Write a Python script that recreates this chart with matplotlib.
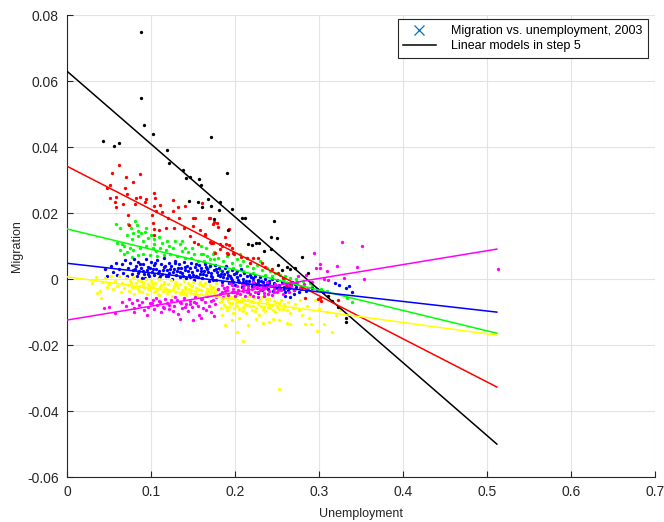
import matplotlib
matplotlib.use("Agg")
import matplotlib.pyplot as plt
from matplotlib.lines import Line2D

plt.rcParams['font.family'] = ['Liberation Sans', 'DejaVu Sans']

# cluster points: (unemployment, migration)
black_pts = [(0.088, 0.0748), (0.088, 0.0548), (0.092, 0.0467), (0.102, 0.0439), (0.171, 0.0430),
             (0.043, 0.0418), (0.056, 0.0403), (0.062, 0.0412), (0.119, 0.0391), (0.122, 0.0352),
             (0.138, 0.0330), (0.142, 0.0306), (0.146, 0.0309), (0.157, 0.0303), (0.160, 0.0285),
             (0.191, 0.0321), (0.145, 0.0236), (0.156, 0.0233), (0.168, 0.0242), (0.161, 0.0218),
             (0.172, 0.0222), (0.182, 0.0233), (0.181, 0.0209), (0.196, 0.0212), (0.208, 0.0185),
             (0.212, 0.0185), (0.192, 0.0148), (0.175, 0.0182), (0.246, 0.0176), (0.243, 0.0127),
             (0.250, 0.0124), (0.215, 0.0106), (0.220, 0.0104), (0.225, 0.0109), (0.229, 0.0109),
             (0.234, 0.0085), (0.243, 0.0091), (0.280, 0.0067), (0.251, 0.0042), (0.256, 0.0027),
             (0.262, 0.0036), (0.266, 0.0030), (0.271, 0.0033), (0.287, 0.0018), (0.311, -0.0052),
             (0.315, -0.0067), (0.323, -0.0085), (0.332, -0.0118), (0.332, -0.0130)]

red_pts = [(0.062, 0.0345), (0.054, 0.0321), (0.070, 0.0309), (0.087, 0.0318), (0.079, 0.0294),
           (0.051, 0.0285), (0.048, 0.0276), (0.069, 0.0276), (0.071, 0.0258), (0.051, 0.0245),
           (0.058, 0.0248), (0.082, 0.0245), (0.087, 0.0248), (0.094, 0.0242), (0.104, 0.0261),
           (0.105, 0.0245), (0.057, 0.0233), (0.067, 0.0227), (0.081, 0.0227), (0.093, 0.0233),
           (0.058, 0.0218), (0.073, 0.0194), (0.104, 0.0221), (0.111, 0.0224), (0.106, 0.0206),
           (0.101, 0.0194), (0.113, 0.0203), (0.126, 0.0239), (0.132, 0.0218), (0.140, 0.0221),
           (0.126, 0.0206), (0.133, 0.0185), (0.150, 0.0185), (0.152, 0.0185), (0.102, 0.0170),
           (0.120, 0.0185), (0.118, 0.0155), (0.110, 0.0148), (0.127, 0.0155), (0.139, 0.0155),
           (0.150, 0.0161), (0.158, 0.0148), (0.169, 0.0185), (0.175, 0.0173), (0.179, 0.0170),
           (0.180, 0.0158), (0.164, 0.0136), (0.193, 0.0152), (0.146, 0.0130), (0.074, 0.0164),
           (0.104, 0.0152), (0.104, 0.0133), (0.151, 0.0112), (0.156, 0.0106), (0.164, 0.0133),
           (0.171, 0.0109), (0.170, 0.0185), (0.174, 0.0167), (0.188, 0.0127), (0.170, 0.0112),
           (0.174, 0.0109), (0.182, 0.0106), (0.185, 0.0100), (0.189, 0.0106), (0.193, 0.0103),
           (0.196, 0.0094), (0.182, 0.0091), (0.190, 0.0079), (0.176, 0.0079), (0.198, 0.0079),
           (0.192, 0.0076), (0.199, 0.0076), (0.207, 0.0067), (0.214, 0.0064), (0.218, 0.0048),
           (0.221, 0.0064), (0.227, 0.0064), (0.232, 0.0048), (0.236, 0.0036), (0.244, 0.0030),
           (0.251, 0.0018), (0.257, 0.0003), (0.265, -0.0012), (0.261, -0.0021), (0.280, -0.0024),
           (0.283, -0.0058), (0.299, -0.0061), (0.301, -0.0058), (0.323, -0.0064), (0.302, -0.0067),
           (0.161, 0.0230)]

green_pts = [(0.058, 0.0168), (0.063, 0.0156), (0.073, 0.0166), (0.076, 0.0156), (0.083, 0.0164),
             (0.085, 0.0147), (0.079, 0.0140), (0.071, 0.0135), (0.081, 0.0176), (0.060, 0.0110),
             (0.065, 0.0107), (0.068, 0.0100), (0.077, 0.0123), (0.084, 0.0130), (0.088, 0.0140),
             (0.093, 0.0143), (0.096, 0.0125), (0.100, 0.0135), (0.104, 0.0123), (0.109, 0.0127),
             (0.075, 0.0093), (0.071, 0.0083), (0.079, 0.0087), (0.087, 0.0095), (0.094, 0.0100),
             (0.102, 0.0093), (0.111, 0.0095), (0.118, 0.0088), (0.126, 0.0095), (0.134, 0.0105),
             (0.137, 0.0085), (0.144, 0.0083), (0.151, 0.0075), (0.159, 0.0077), (0.167, 0.0070),
             (0.175, 0.0083), (0.175, 0.0060), (0.170, 0.0044), (0.163, 0.0055), (0.156, 0.0055),
             (0.148, 0.0065), (0.140, 0.0063), (0.131, 0.0070), (0.123, 0.0075), (0.115, 0.0073),
             (0.107, 0.0070), (0.099, 0.0073), (0.091, 0.0075), (0.084, 0.0073), (0.077, 0.0067),
             (0.068, 0.0075), (0.063, 0.0087), (0.119, 0.0115), (0.128, 0.0117), (0.094, 0.0154),
             (0.090, 0.0117), (0.104, 0.0105), (0.113, 0.0110), (0.137, 0.0115), (0.141, 0.0095),
             (0.149, 0.0095), (0.159, 0.0100), (0.166, 0.0095), (0.106, 0.0085), (0.121, 0.0100),
             (0.162, 0.0075), (0.164, 0.0049), (0.174, 0.0077), (0.170, 0.0060), (0.180, 0.0065),
             (0.186, 0.0055), (0.176, 0.0044), (0.190, 0.0070), (0.196, 0.0049), (0.202, 0.0060),
             (0.206, 0.0044), (0.210, 0.0055), (0.214, 0.0039), (0.218, 0.0049), (0.222, 0.0034),
             (0.226, 0.0044), (0.232, 0.0029), (0.238, 0.0034), (0.242, 0.0024), (0.248, 0.0019),
             (0.254, 0.0014), (0.260, 0.0009), (0.266, 0.0004), (0.273, -0.0001), (0.281, -0.0006),
             (0.289, -0.0011), (0.198, 0.0034), (0.182, 0.0029), (0.168, 0.0034), (0.192, 0.0024),
             (0.210, 0.0024), (0.222, 0.0019), (0.236, 0.0014), (0.244, 0.0009), (0.258, -0.0001),
             (0.269, -0.0011), (0.206, 0.0075), (0.214, 0.0065), (0.230, 0.0055), (0.292, -0.0020),
             (0.333, -0.0058), (0.339, -0.0070), (0.302, -0.0030), (0.310, -0.0035)]

blue_pts = [(0.052, 0.0040), (0.055, 0.0022), (0.058, 0.0050), (0.060, 0.0012), (0.062, 0.0031),
            (0.065, 0.0045), (0.067, 0.0020), (0.069, 0.0058), (0.071, 0.0008), (0.073, 0.0035),
            (0.075, 0.0049), (0.077, 0.0015), (0.079, 0.0027), (0.080, 0.0062), (0.082, 0.0041),
            (0.083, 0.0010), (0.085, 0.0053), (0.086, 0.0024), (0.088, 0.0034), (0.089, 0.0002),
            (0.091, 0.0047), (0.092, 0.0017), (0.094, 0.0060), (0.095, 0.0029), (0.097, 0.0038),
            (0.098, 0.0008), (0.100, 0.0052), (0.101, 0.0021), (0.103, 0.0043), (0.104, 0.0013),
            (0.106, 0.0031), (0.107, 0.0057), (0.109, 0.0003), (0.110, 0.0025), (0.112, 0.0046),
            (0.113, 0.0016), (0.115, 0.0036), (0.116, 0.0064), (0.118, 0.0009), (0.119, 0.0028),
            (0.121, 0.0050), (0.122, 0.0019), (0.124, 0.0040), (0.125, -0.0001), (0.127, 0.0032),
            (0.128, 0.0055), (0.130, 0.0012), (0.131, 0.0024), (0.133, 0.0045), (0.134, 0.0006),
            (0.136, 0.0035), (0.137, 0.0018), (0.139, 0.0051), (0.140, 0.0027), (0.142, 0.0002),
            (0.143, 0.0041), (0.145, 0.0014), (0.146, 0.0033), (0.148, 0.0048), (0.149, 0.0022),
            (0.151, -0.0003), (0.152, 0.0037), (0.154, 0.0010), (0.155, 0.0029), (0.157, 0.0044),
            (0.158, 0.0017), (0.160, 0.0034), (0.161, 0.0003), (0.163, 0.0024), (0.164, 0.0046),
            (0.166, 0.0011), (0.167, 0.0030), (0.169, -0.0006), (0.170, 0.0039), (0.172, 0.0018),
            (0.173, 0.0006), (0.175, 0.0027), (0.176, 0.0042), (0.178, -0.0002), (0.179, 0.0021),
            (0.181, 0.0035), (0.182, 0.0009), (0.184, 0.0026), (0.185, -0.0008), (0.187, 0.0015),
            (0.188, 0.0033), (0.190, 0.0002), (0.191, 0.0022), (0.193, -0.0012), (0.194, 0.0010),
            (0.196, 0.0028), (0.197, -0.0004), (0.199, 0.0016), (0.200, -0.0018), (0.202, 0.0006),
            (0.203, 0.0024), (0.205, -0.0010), (0.206, 0.0013), (0.208, -0.0024), (0.209, 0.0001),
            (0.211, 0.0019), (0.212, -0.0015), (0.214, 0.0008), (0.215, -0.0030), (0.217, -0.0005),
            (0.218, 0.0014), (0.220, -0.0021), (0.221, 0.0003), (0.223, -0.0011), (0.224, 0.0010),
            (0.226, -0.0027), (0.227, -0.0003), (0.229, -0.0017), (0.230, 0.0005), (0.232, -0.0033),
            (0.233, -0.0008), (0.235, -0.0022), (0.236, 0.0000), (0.238, -0.0014), (0.239, -0.0030),
            (0.241, -0.0006), (0.243, -0.0020), (0.245, -0.0036), (0.246, -0.0011), (0.248, -0.0026),
            (0.250, -0.0002), (0.252, -0.0017), (0.254, -0.0031), (0.256, -0.0008), (0.258, -0.0023),
            (0.260, -0.0039), (0.262, -0.0013), (0.264, -0.0028), (0.267, -0.0018), (0.270, -0.0034),
            (0.273, -0.0024), (0.276, -0.0040), (0.279, -0.0029), (0.285, -0.0036), (0.292, -0.0027),
            (0.298, -0.0030), (0.305, -0.0038), (0.319, -0.0012), (0.324, -0.0018), (0.332, -0.0027),
            (0.336, -0.0022), (0.340, -0.0040), (0.260, -0.0050), (0.265, -0.0055), (0.270, -0.0045),
            (0.228, -0.0042), (0.215, -0.0040), (0.048, 0.0010), (0.045, 0.0030),
            (0.081, 0.0030), (0.087, 0.0047), (0.093, 0.0004), (0.099, 0.0033), (0.105, 0.0048),
            (0.111, 0.0008), (0.117, 0.0040), (0.123, 0.0031), (0.129, 0.0049), (0.135, 0.0021),
            (0.141, 0.0038), (0.147, 0.0007), (0.153, 0.0045), (0.159, 0.0026), (0.165, 0.0037),
            (0.171, 0.0009), (0.177, 0.0031), (0.183, 0.0017), (0.189, 0.0040), (0.195, 0.0004),
            (0.201, 0.0020), (0.207, 0.0030), (0.213, -0.0005), (0.219, 0.0007), (0.225, -0.0016),
            (0.231, -0.0005), (0.237, -0.0025), (0.244, -0.0001), (0.251, -0.0028), (0.257, -0.0012),
            (0.263, -0.0033), (0.268, -0.0009), (0.084, 0.0018), (0.090, 0.0026), (0.096, 0.0015),
            (0.102, 0.0030), (0.108, 0.0020), (0.114, 0.0027), (0.120, 0.0010), (0.126, 0.0022),
            (0.132, 0.0034), (0.138, 0.0009), (0.144, 0.0025), (0.150, 0.0012), (0.156, 0.0006),
            (0.162, 0.0016), (0.168, 0.0021), (0.174, -0.0004), (0.180, 0.0011), (0.186, 0.0005),
            (0.192, 0.0013), (0.198, -0.0009), (0.204, -0.0003), (0.210, -0.0008), (0.216, -0.0019),
            (0.222, -0.0006), (0.228, -0.0010), (0.234, -0.0019), (0.240, -0.0012), (0.247, -0.0016),
            (0.253, -0.0022), (0.259, -0.0030), (0.266, -0.0023), (0.272, -0.0014)]

yellow_pts = [(0.030, -0.0012), (0.034, 0.0006), (0.036, -0.0042), (0.039, -0.0036), (0.040, -0.0058),
              (0.042, -0.0008), (0.045, 0.0002), (0.047, -0.0025), (0.050, -0.0015), (0.052, 0.0008),
              (0.055, -0.0030), (0.057, -0.0005), (0.060, -0.0020), (0.062, 0.0010), (0.064, -0.0040),
              (0.066, -0.0012), (0.068, -0.0028), (0.070, 0.0003), (0.072, -0.0018), (0.074, -0.0035),
              (0.075, -0.0006), (0.077, -0.0024), (0.079, 0.0005), (0.080, -0.0044), (0.082, -0.0013),
              (0.084, -0.0030), (0.085, -0.0002), (0.087, -0.0020), (0.089, -0.0038), (0.090, -0.0009),
              (0.092, -0.0027), (0.094, 0.0001), (0.095, -0.0046), (0.097, -0.0016), (0.099, -0.0033),
              (0.100, -0.0005), (0.102, -0.0023), (0.104, -0.0040), (0.105, -0.0011), (0.107, -0.0029),
              (0.109, -0.0001), (0.110, -0.0048), (0.112, -0.0019), (0.114, -0.0036), (0.115, -0.0008),
              (0.117, -0.0026), (0.119, -0.0043), (0.120, -0.0014), (0.122, -0.0032), (0.124, -0.0004),
              (0.125, -0.0051), (0.127, -0.0022), (0.129, -0.0039), (0.130, -0.0010), (0.132, -0.0028),
              (0.134, -0.0045), (0.135, -0.0016), (0.137, -0.0034), (0.139, -0.0006), (0.140, -0.0024),
              (0.142, -0.0049), (0.144, -0.0013), (0.145, -0.0031), (0.147, -0.0041), (0.149, -0.0020),
              (0.150, -0.0008), (0.152, -0.0037), (0.154, -0.0026), (0.155, -0.0052), (0.157, -0.0015),
              (0.159, -0.0033), (0.160, -0.0044), (0.162, -0.0022), (0.164, -0.0011), (0.165, -0.0039),
              (0.167, -0.0029), (0.169, -0.0048), (0.170, -0.0017), (0.172, -0.0035), (0.174, -0.0025),
              (0.175, -0.0043), (0.177, -0.0013), (0.178, -0.0032), (0.076, -0.0011), (0.081, -0.0024),
              (0.086, -0.0035), (0.091, -0.0018), (0.096, -0.0029), (0.101, -0.0014), (0.106, -0.0035),
              (0.111, -0.0024), (0.116, -0.0016), (0.121, -0.0037), (0.126, -0.0030), (0.131, -0.0019),
              (0.136, -0.0041), (0.141, -0.0029), (0.146, -0.0018), (0.151, -0.0046), (0.156, -0.0030),
              (0.161, -0.0019), (0.166, -0.0046), (0.171, -0.0027), (0.176, -0.0036), (0.088, -0.0007),
              (0.098, -0.0021), (0.108, -0.0044), (0.118, -0.0031), (0.128, -0.0013), (0.138, -0.0046),
              (0.148, -0.0032), (0.158, -0.0008), (0.168, -0.0036),
              (0.180, -0.0052), (0.182, -0.0070), (0.183, -0.0088), (0.185, -0.0060), (0.187, -0.0078),
              (0.188, -0.0045), (0.190, -0.0095), (0.192, -0.0066), (0.193, -0.0084), (0.195, -0.0055),
              (0.197, -0.0073), (0.198, -0.0102), (0.200, -0.0061), (0.202, -0.0080), (0.203, -0.0048),
              (0.205, -0.0091), (0.207, -0.0068), (0.208, -0.0057), (0.210, -0.0085), (0.212, -0.0074),
              (0.213, -0.0104), (0.215, -0.0063), (0.217, -0.0052), (0.218, -0.0081), (0.220, -0.0093),
              (0.222, -0.0069), (0.223, -0.0058), (0.225, -0.0087), (0.227, -0.0076), (0.229, -0.0108),
              (0.230, -0.0064), (0.232, -0.0054), (0.234, -0.0083), (0.236, -0.0096), (0.238, -0.0071),
              (0.240, -0.0060), (0.242, -0.0089), (0.244, -0.0078), (0.246, -0.0066), (0.248, -0.0100),
              (0.250, -0.0085), (0.252, -0.0073), (0.255, -0.0062), (0.257, -0.0092), (0.260, -0.0080),
              (0.263, -0.0069), (0.266, -0.0104), (0.269, -0.0087), (0.272, -0.0075), (0.184, -0.0067),
              (0.189, -0.0083), (0.194, -0.0072), (0.199, -0.0088), (0.204, -0.0065), (0.209, -0.0098),
              (0.214, -0.0077), (0.219, -0.0066), (0.224, -0.0096), (0.228, -0.0072), (0.233, -0.0090),
              (0.237, -0.0061), (0.241, -0.0077), (0.245, -0.0094), (0.249, -0.0069), (0.253, -0.0090),
              (0.258, -0.0075), (0.262, -0.0095), (0.191, -0.0053), (0.201, -0.0071), (0.211, -0.0062),
              (0.221, -0.0080), (0.231, -0.0081), (0.239, -0.0085),
              (0.276, -0.0094), (0.278, -0.0064), (0.280, -0.0110), (0.284, -0.0136), (0.286, -0.0080),
              (0.288, -0.0119), (0.290, -0.0136), (0.295, -0.0064), (0.298, -0.0158), (0.300, -0.0090),
              (0.306, -0.0136), (0.310, -0.0100), (0.316, -0.0160), (0.320, -0.0110), (0.325, -0.0095),
              (0.265, -0.0136), (0.262, -0.0133), (0.253, -0.0125), (0.233, -0.0133), (0.245, -0.0120),
              (0.252, -0.0333), (0.210, -0.0188), (0.202, -0.0161), (0.188, -0.0139), (0.196, -0.0125),
              (0.215, -0.0140), (0.225, -0.0122), (0.240, -0.0130), (0.185, -0.0110), (0.205, -0.0118)]

magenta_pts = [(0.066, -0.0068), (0.070, -0.0080), (0.074, -0.0060), (0.077, -0.0073), (0.080, -0.0089),
               (0.083, -0.0062), (0.086, -0.0078), (0.089, -0.0068), (0.092, -0.0095), (0.094, -0.0058),
               (0.097, -0.0084), (0.099, -0.0071), (0.102, -0.0062), (0.104, -0.0090), (0.107, -0.0077),
               (0.109, -0.0066), (0.112, -0.0100), (0.114, -0.0083), (0.117, -0.0059), (0.119, -0.0072),
               (0.122, -0.0092), (0.124, -0.0064), (0.127, -0.0080), (0.129, -0.0054), (0.132, -0.0105),
               (0.134, -0.0069), (0.137, -0.0087), (0.139, -0.0058), (0.142, -0.0076), (0.144, -0.0097),
               (0.147, -0.0065), (0.149, -0.0083), (0.152, -0.0054), (0.154, -0.0072), (0.157, -0.0110),
               (0.159, -0.0061), (0.162, -0.0089), (0.164, -0.0070), (0.167, -0.0050), (0.169, -0.0081),
               (0.172, -0.0100), (0.174, -0.0063), (0.176, -0.0076), (0.178, -0.0055), (0.101, -0.0072),
               (0.111, -0.0069), (0.121, -0.0078), (0.131, -0.0063), (0.141, -0.0086), (0.151, -0.0068),
               (0.161, -0.0060), (0.171, -0.0067), (0.126, -0.0096), (0.146, -0.0074), (0.166, -0.0094),
               (0.136, -0.0073), (0.116, -0.0089), (0.156, -0.0082), (0.106, -0.0058), (0.044, -0.0088),
               (0.050, -0.0085), (0.057, -0.0103), (0.135, -0.0120), (0.150, -0.0125), (0.160, -0.0118),
               (0.175, -0.0112), (0.080, -0.0100), (0.095, -0.0108),
               (0.180, -0.0030), (0.182, -0.0045), (0.184, -0.0018), (0.186, -0.0055), (0.188, -0.0036),
               (0.190, -0.0024), (0.192, -0.0048), (0.194, -0.0012), (0.196, -0.0040), (0.198, -0.0029),
               (0.200, -0.0052), (0.202, -0.0020), (0.204, -0.0034), (0.206, -0.0045), (0.208, -0.0014),
               (0.210, -0.0027), (0.212, -0.0050), (0.214, -0.0038), (0.216, -0.0022), (0.218, -0.0044),
               (0.220, -0.0031), (0.222, -0.0010), (0.224, -0.0040), (0.226, -0.0025), (0.228, -0.0053),
               (0.230, -0.0034), (0.232, -0.0018), (0.234, -0.0043), (0.236, -0.0028), (0.238, -0.0008),
               (0.240, -0.0037), (0.242, -0.0022), (0.244, -0.0048), (0.246, -0.0031), (0.248, -0.0015),
               (0.250, -0.0040), (0.252, -0.0025), (0.255, -0.0034), (0.258, -0.0012), (0.261, -0.0028),
               (0.264, -0.0040), (0.267, -0.0020), (0.270, -0.0032), (0.274, -0.0010), (0.278, -0.0026),
               (0.282, -0.0016), (0.287, -0.0030), (0.292, -0.0008), (0.185, -0.0038), (0.191, -0.0033),
               (0.197, -0.0018), (0.203, -0.0043), (0.209, -0.0036), (0.215, -0.0030), (0.221, -0.0050),
               (0.227, -0.0038), (0.233, -0.0030), (0.239, -0.0045), (0.245, -0.0020), (0.251, -0.0032),
               (0.257, -0.0044), (0.263, -0.0017), (0.187, -0.0026), (0.199, -0.0038), (0.211, -0.0019),
               (0.223, -0.0022), (0.235, -0.0052), (0.247, -0.0039),
               (0.327, 0.0112), (0.351, 0.0100), (0.294, 0.0079), (0.301, 0.0045), (0.297, 0.0033),
               (0.301, 0.0033), (0.321, 0.0039), (0.345, 0.0036), (0.354, 0.0000), (0.330, 0.0003),
               (0.306, 0.0000), (0.311, -0.0003), (0.513, 0.0030), (0.285, 0.0012), (0.275, 0.0008),
               (0.310, 0.0025)]

# linear models (value at x = 0 and at the last x)
line_x = [0.0, 0.512]
line_start = {'k': 0.0630, 'r': 0.0342, 'g': 0.0152, 'b': 0.0048, 'y': 0.0007, 'm': -0.0124}
line_end = {'k': -0.0500, 'r': -0.0327, 'g': -0.0164, 'b': -0.0100, 'y': -0.0170, 'm': 0.0091}

colors = {'k': '#000000', 'r': '#ff0000', 'g': '#00ff00', 'b': '#0000ff', 'y': '#ffff00', 'm': '#ff00ff'}
clusters = [('g', green_pts), ('b', blue_pts), ('y', yellow_pts), ('m', magenta_pts),
            ('r', red_pts), ('k', black_pts)]

xticks = [0, 0.1, 0.2, 0.3, 0.4, 0.5, 0.6, 0.7]
yticks = [-0.06, -0.04, -0.02, 0, 0.02, 0.04, 0.06, 0.08]

fig = plt.figure(figsize=(6.64, 5.22), dpi=100)
ax = fig.add_axes([0.101, 0.086, 0.885, 0.885])

for key, pts in clusters:
    xs = [p[0] for p in pts]
    ys = [p[1] for p in pts]
    ax.plot(xs, ys, 'o', ms=2.4, mew=0, color=colors[key], zorder=2)

for key in ['k', 'r', 'g', 'b', 'y', 'm']:
    ax.plot(line_x, [line_start[key], line_end[key]], '-', color=colors[key], lw=1.1, zorder=3)

ax.set_xlim(0, 0.7)
ax.set_ylim(-0.06, 0.08)
ax.set_xticks(xticks)
ax.set_yticks(yticks)
ax.set_xticklabels([f"{v:g}" for v in xticks])
ax.set_yticklabels([f"{v:g}" for v in yticks])
ax.grid(True, color='#e3e3e3', lw=0.8, zorder=0)
ax.set_axisbelow(True)
for s in ['top', 'right']:
    ax.spines[s].set_visible(False)
for s in ['left', 'bottom']:
    ax.spines[s].set_color('#262626')
    ax.spines[s].set_linewidth(0.8)
ax.tick_params(direction='in', length=4, width=0.8, color='#262626', labelcolor='#262626',
               labelsize=10, pad=6)
ax.set_xlabel('Unemployment', fontsize=9, color='#262626', labelpad=6)
ax.set_ylabel('Migration', fontsize=9, color='#262626', labelpad=3)

handles = [Line2D([], [], ls='none', marker='x', ms=7, mew=0.9, color='#0072BD'),
           Line2D([], [], color='k', lw=1.1)]
leg = ax.legend(handles, ['Migration vs. unemployment, 2003', 'Linear models in step 5'],
                loc='upper right', bbox_to_anchor=(0.988, 0.991), borderaxespad=0,
                fancybox=False, framealpha=1, edgecolor='#262626', fontsize=9,
                handlelength=2.6, handletextpad=1.2, borderpad=0.45, labelspacing=0.25)
leg.get_frame().set_linewidth(0.8)

fig.savefig('out.png', dpi=100)
